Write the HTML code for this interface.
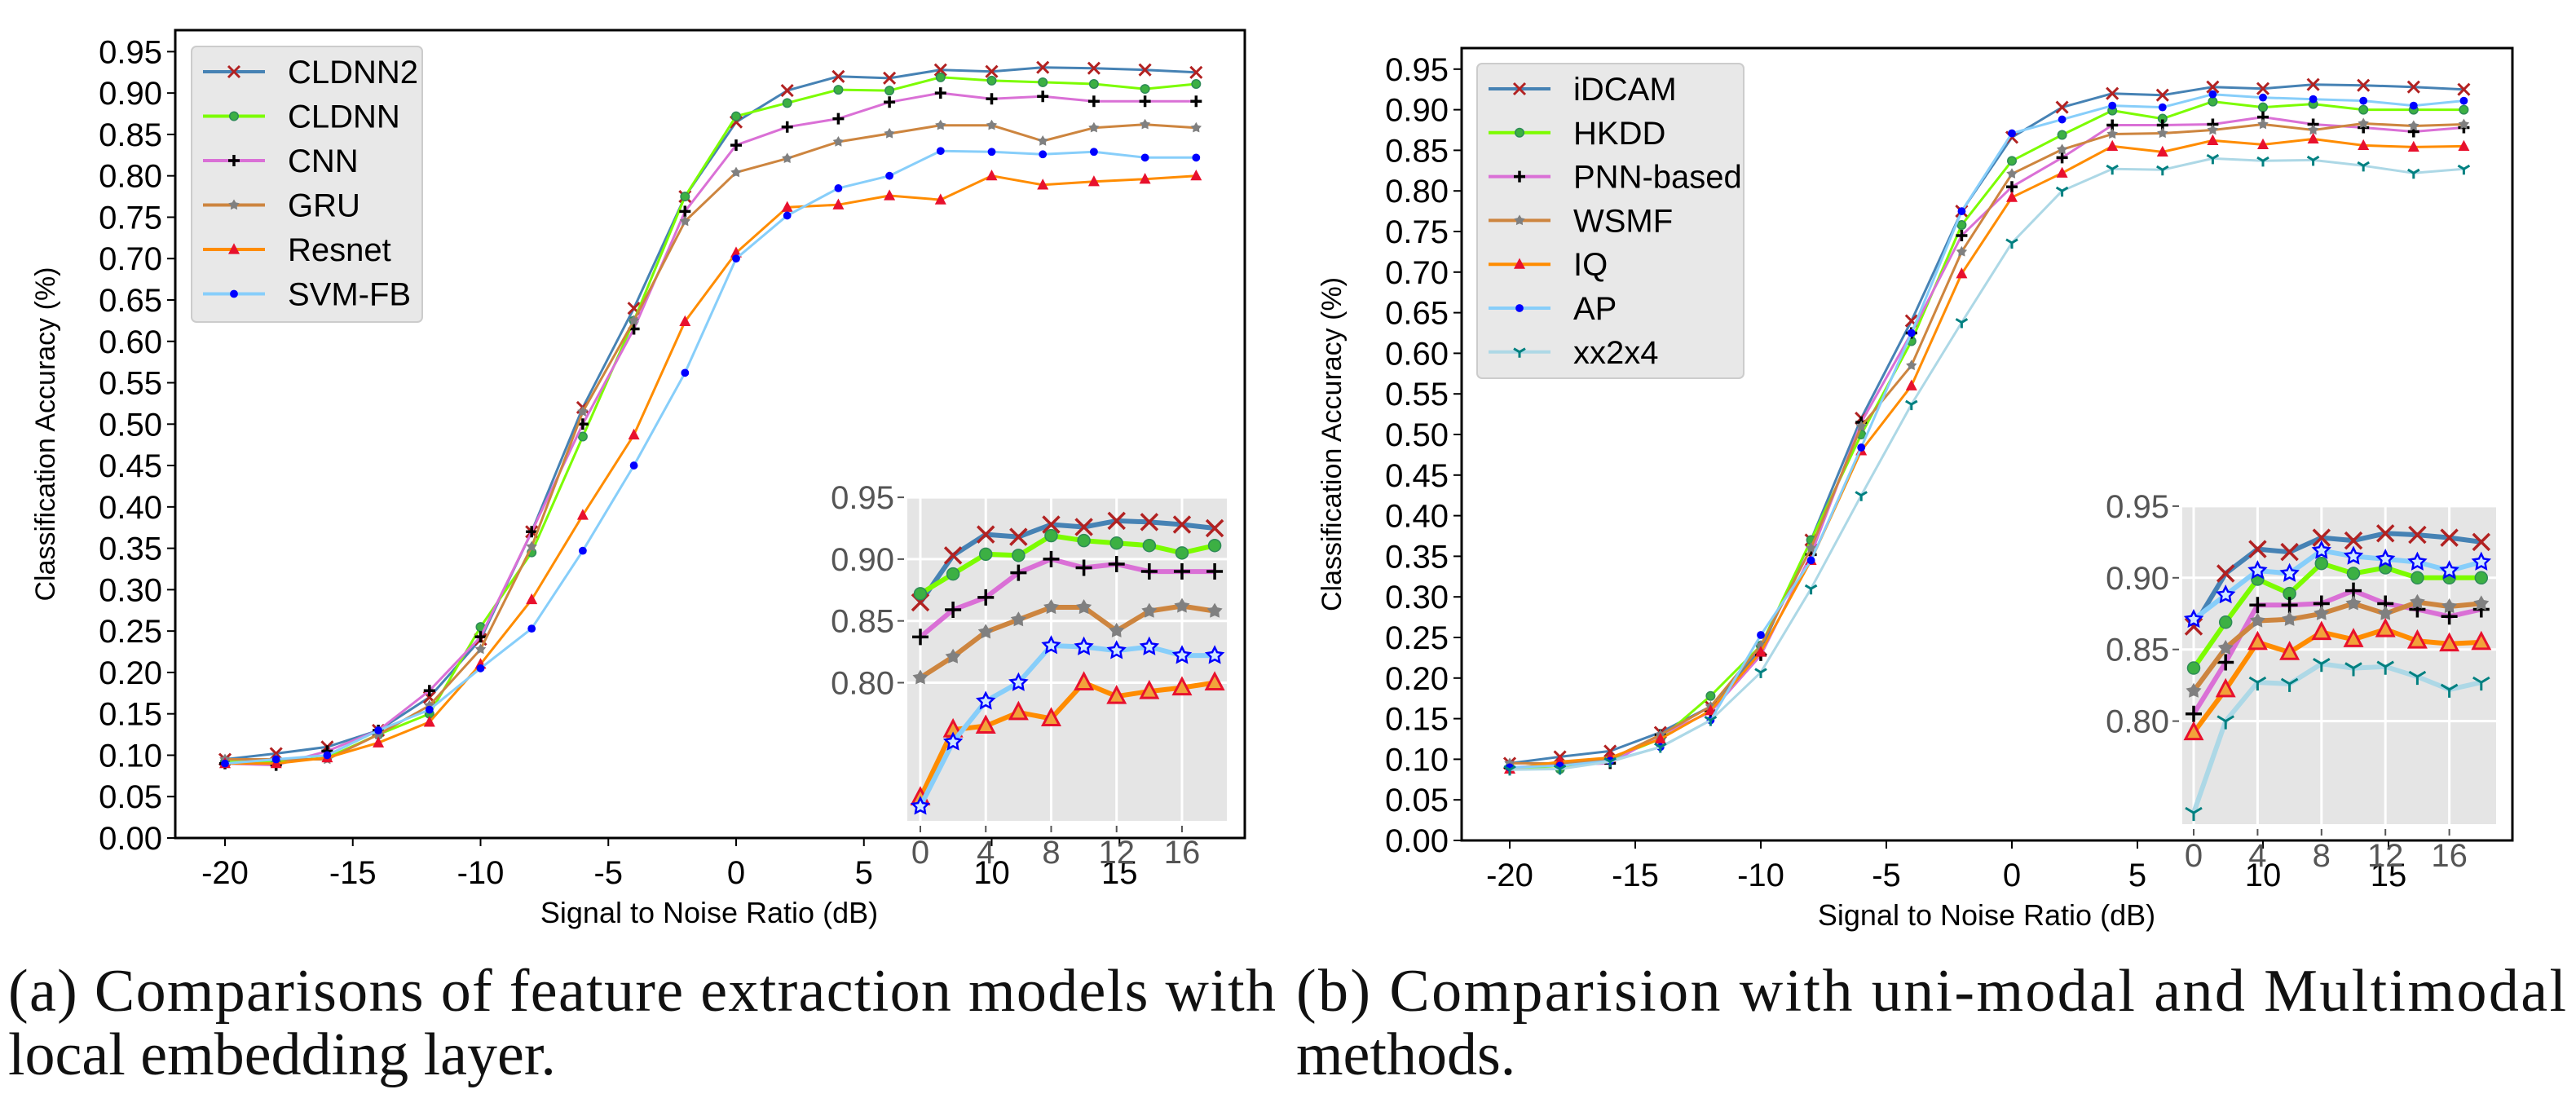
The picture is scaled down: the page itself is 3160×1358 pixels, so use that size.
<!DOCTYPE html>
<html><head><meta charset="utf-8"><style>
html,body{margin:0;padding:0;background:#fff;}
svg{display:block;}
text{font-family:"Liberation Sans","DejaVu Sans",sans-serif;}
.cap{font-family:"Liberation Serif",serif;font-size:74px;fill:#111;}
</style></head><body>
<svg id="root" width="3160" height="1358" viewBox="0 0 3160 1358" xmlns="http://www.w3.org/2000/svg">
<text class="cap" x="10" y="1240" textLength="1555" lengthAdjust="spacing">(a) Comparisons of feature extraction models with</text>
<text class="cap" x="10" y="1318">local embedding layer.</text>
<text class="cap" x="1590" y="1240" textLength="1558" lengthAdjust="spacing">(b)  Comparision with uni-modal and Multimodal</text>
<text class="cap" x="1590" y="1318">methods.</text>
</svg>
<script>
const snr = [-20,-18,-16,-14,-12,-10,-8,-6,-4,-2,0,2,4,6,8,10,12,14,16,18];
const yTicks = [0,0.05,0.1,0.15,0.2,0.25,0.3,0.35,0.4,0.45,0.5,0.55,0.6,0.65,0.7,0.75,0.8,0.85,0.9,0.95];
const xTicks = [-20,-15,-10,-5,0,5,10,15];
const insetXTicks = [0,4,8,12,16];
const insetYTicks = [0.8,0.85,0.9,0.95];
const namesA = ["CLDNN2","CLDNN","CNN","GRU","Resnet","SVM-FB"];
const cldnn2 = [0.095,0.102,0.11,0.13,0.17,0.24,0.37,0.52,0.64,0.775,0.865,0.903,0.92,0.918,0.928,0.926,0.931,0.93,0.928,0.925];
const cldnn = [0.092,0.092,0.097,0.125,0.15,0.255,0.345,0.485,0.625,0.775,0.872,0.888,0.904,0.903,0.919,0.915,0.913,0.911,0.905,0.911];
const cnn = [0.09,0.088,0.105,0.13,0.178,0.243,0.37,0.5,0.615,0.757,0.837,0.859,0.869,0.889,0.9,0.893,0.896,0.89,0.89,0.89];
const gru = [0.095,0.095,0.095,0.125,0.16,0.228,0.352,0.515,0.625,0.745,0.804,0.821,0.841,0.851,0.861,0.861,0.842,0.858,0.862,0.858];
const resnet = [0.09,0.09,0.097,0.115,0.14,0.21,0.288,0.39,0.487,0.624,0.707,0.762,0.765,0.776,0.771,0.8,0.789,0.793,0.796,0.8];
const svmfb = [0.09,0.095,0.1,0.13,0.155,0.205,0.253,0.347,0.45,0.562,0.7,0.752,0.785,0.8,0.83,0.829,0.826,0.829,0.822,0.822];
const namesB = ["iDCAM","HKDD","PNN-based","WSMF","IQ","AP","xx2x4"];
const idcam = [0.095,0.103,0.11,0.133,0.165,0.235,0.37,0.52,0.64,0.775,0.866,0.903,0.92,0.918,0.928,0.926,0.931,0.93,0.928,0.925];
const hkdd = [0.09,0.088,0.1,0.125,0.178,0.24,0.37,0.5,0.615,0.758,0.837,0.869,0.899,0.889,0.91,0.903,0.907,0.9,0.9,0.9];
const pnn = [0.09,0.093,0.095,0.13,0.158,0.228,0.352,0.515,0.625,0.745,0.805,0.841,0.881,0.881,0.882,0.891,0.882,0.878,0.873,0.878];
const wsmf = [0.095,0.095,0.1,0.13,0.165,0.24,0.36,0.51,0.585,0.725,0.821,0.851,0.87,0.871,0.875,0.882,0.875,0.883,0.88,0.882];
const iq = [0.088,0.097,0.102,0.125,0.16,0.232,0.345,0.48,0.56,0.698,0.792,0.822,0.855,0.848,0.862,0.857,0.864,0.856,0.854,0.855];
const ap = [0.09,0.092,0.098,0.115,0.148,0.253,0.345,0.484,0.625,0.775,0.871,0.888,0.905,0.903,0.919,0.915,0.913,0.911,0.905,0.911];
const xx2x4 = [0.087,0.088,0.097,0.115,0.148,0.207,0.31,0.425,0.537,0.638,0.736,0.8,0.827,0.826,0.84,0.837,0.838,0.831,0.822,0.827];

const NS="http://www.w3.org/2000/svg";
const root=document.getElementById('root');
function mk(tag,attrs,parent){const e=document.createElementNS(NS,tag);for(const k in attrs)e.setAttribute(k,attrs[k]);(parent||root).appendChild(e);return e;}

const styles={
 x:{line:"#4682b4",mc:"#b22222"}, o:{line:"#7cfc00",mc:"#2e8b57",fill:"#3cb043"},
 p:{line:"#da70d6",mc:"#000"}, s:{line:"#cd853f",mc:"#808080"},
 t:{line:"#ff8c00",mc:"#e8112d"}, d:{line:"#87cefa",mc:"#0000ff"}, y:{line:"#add8e6",mc:"#008080"}
};
function marker(g,type,cx,cy,r,inset){
  const st=styles[type];let e;
  if(type==='x'){e=mk('path',{d:`M${cx-r} ${cy-r}L${cx+r} ${cy+r}M${cx-r} ${cy+r}L${cx+r} ${cy-r}`,stroke:st.mc,'stroke-width':inset?3.5:3,fill:'none'},g);}
  else if(type==='o'){e=mk('circle',{cx,cy,r:r*0.75,fill:st.fill,stroke:st.mc,'stroke-width':1.5},g);}
  else if(type==='p'){e=mk('path',{d:`M${cx-r} ${cy}L${cx+r} ${cy}M${cx} ${cy-r}L${cx} ${cy+r}`,stroke:st.mc,'stroke-width':3.5,fill:'none'},g);}
  else if(type==='s'){let pts=[];for(let i=0;i<10;i++){const a=-Math.PI/2+i*Math.PI/5;const rr=i%2?r*0.55:r;pts.push((cx+rr*Math.cos(a)).toFixed(1)+','+(cy+rr*Math.sin(a)).toFixed(1));}e=mk('polygon',{points:pts.join(' '),fill:st.mc},g);}
  else if(type==='t'){e=mk('polygon',{points:`${cx},${cy-r*1.1} ${cx-r},${cy+r*0.8} ${cx+r},${cy+r*0.8}`,fill:inset?'#f2a23a':st.mc,stroke:st.mc,'stroke-width':inset?3:0},g);}
  else if(type==='d'){if(inset){let pts=[];for(let i=0;i<10;i++){const a=-Math.PI/2+i*Math.PI/5;const rr=i%2?r*0.5:r;pts.push((cx+rr*Math.cos(a)).toFixed(1)+','+(cy+rr*Math.sin(a)).toFixed(1));}e=mk('polygon',{points:pts.join(' '),fill:'#cfe8ff',stroke:st.mc,'stroke-width':2.5},g);}else e=mk('circle',{cx,cy,r:r*0.7,fill:st.mc},g);}
  else if(type==='y'){e=mk('path',{d:`M${cx} ${cy}L${cx} ${cy+r}M${cx} ${cy}L${cx-r} ${cy-r*0.6}M${cx} ${cy}L${cx+r} ${cy-r*0.6}`,stroke:st.mc,'stroke-width':3,fill:'none'},g);}
  
  
}
function drawSeries(g,vals,type,X,Y,name,inset,filter){
  const st=styles[type];let d='';let first=true;
  snr.forEach((s,i)=>{if(filter&&!filter(s))return;d+=(first?'M':'L')+X(s).toFixed(1)+' '+Y(vals[i]).toFixed(1);first=false;});
  const sg=mk('g',{},g);
  
  
  mk('path',{d,fill:'none',stroke:st.line,'stroke-width':inset?6:3,'stroke-linejoin':'round'},sg);
  snr.forEach((s,i)=>{if(filter&&!filter(s))return;marker(sg,type,X(s),Y(vals[i]),inset?10:7,inset);});
}

function chart(cfg){
  const g=mk('g',{});
  
  
  const X=v=>cfg.x0+(v+20)*cfg.px; const Y=v=>cfg.y0-v/0.05*cfg.py;
  mk('rect',{x:cfg.L,y:cfg.T,width:cfg.R-cfg.L,height:cfg.B-cfg.T,fill:'#fff',stroke:'#000','stroke-width':3},g);
  const yt=mk('g',{},g);
  
  
  yTicks.forEach(v=>{mk('line',{x1:cfg.L-10,x2:cfg.L,y1:Y(v),y2:Y(v),stroke:'#000','stroke-width':2},yt);
    const t=mk('text',{x:cfg.L-16,y:Y(v)+14,'text-anchor':'end','font-size':40,fill:'#000'},yt);t.textContent=v.toFixed(2);});
  const xt=mk('g',{},g);
  
  
  xTicks.forEach(v=>{mk('line',{x1:X(v),x2:X(v),y1:cfg.B,y2:cfg.B+10,stroke:'#000','stroke-width':2},xt);
    const t=mk('text',{x:X(v),y:cfg.B+56,'text-anchor':'middle','font-size':40,fill:'#000'},xt);t.textContent=v;});
  const yl=mk('text',{x:0,y:0,transform:`translate(${cfg.L-148},${(cfg.T+cfg.B)/2}) rotate(-90)`,'text-anchor':'middle','font-size':34,fill:'#000'},g);
  yl.textContent='Classification Accuracy (%)';
  
  
  const xl=mk('text',{x:cfg.xlx,y:cfg.B+104,'text-anchor':'middle','font-size':36,fill:'#000'},g);
  xl.textContent='Signal to Noise Ratio (dB)';
  
  
  cfg.series.forEach(s=>drawSeries(g,s.v,s.t,X,Y,s.n,false));
  const lg=mk('g',{},g);
  
  
  mk('rect',{x:cfg.lg.x,y:cfg.lg.y,width:cfg.lg.w,height:cfg.lg.h,rx:6,fill:'#e8e8e8',stroke:'#cccccc','stroke-width':2},lg);
  cfg.series.forEach((s,i)=>{const yy=cfg.lg.y+31+i*cfg.lg.dy;const x1=cfg.lg.x+14;
    const e=mk('g',{},lg);
    
    
    mk('line',{x1,x2:x1+76,y1:yy,y2:yy,stroke:styles[s.t].line,'stroke-width':4},e);
    marker(e,s.t,x1+38,yy,7,false);
    const t=mk('text',{x:x1+104,y:yy+14,'font-size':40,fill:'#000'},e);t.textContent=s.n;});
  const ig=mk('g',{},g);
  
  
  const I=cfg.inset;
  const IX=v=>I.x0+v*I.px; const IY=v=>I.y80-(v-0.8)/0.05*I.py;
  mk('rect',{x:I.L,y:I.T,width:I.R-I.L,height:I.B-I.T,fill:'#e5e5e5'},ig);
  insetYTicks.forEach(v=>{mk('line',{x1:I.L,x2:I.R,y1:IY(v),y2:IY(v),stroke:'#fff','stroke-width':3},ig);
    mk('line',{x1:I.L-12,x2:I.L-4,y1:IY(v),y2:IY(v),stroke:'#555','stroke-width':2},ig);
    const t=mk('text',{x:I.L-16,y:IY(v)+14,'text-anchor':'end','font-size':40,fill:'#555'},ig);t.textContent=v.toFixed(2);});
  insetXTicks.forEach(v=>{mk('line',{x1:IX(v),x2:IX(v),y1:I.T,y2:I.B,stroke:'#fff','stroke-width':3},ig);
    mk('line',{x1:IX(v),x2:IX(v),y1:I.B+6,y2:I.B+14,stroke:'#555','stroke-width':2},ig);
    const t=mk('text',{x:IX(v),y:I.B+52,'text-anchor':'middle','font-size':40,fill:'#555'},ig);t.textContent=v;});
  const cl=mk('clipPath',{id:cfg.id+'-clip'},ig);mk('rect',{x:I.L,y:I.T,width:I.R-I.L,height:I.B-I.T},cl);
  const inner=mk('g',{'clip-path':`url(#${cfg.id}-clip)`},ig);
  cfg.series.forEach(s=>drawSeries(inner,s.v,s.t,IX,IY,s.n+'-inset',true,v=>v>=0));
}

chart({id:'chart-a',L:215,R:1527,T:37,B:1028,x0:276,px:31.35,y0:1028,py:50.77,xlx:870,
 lg:{x:235,y:57,w:283,h:338,dy:54.5},
 inset:{L:1113,R:1505,T:610,B:1007,x0:1129,px:20.06,y80:837.5,py:75.8},
 series:[{n:namesA[0],v:cldnn2,t:'x'},{n:namesA[1],v:cldnn,t:'o'},{n:namesA[2],v:cnn,t:'p'},{n:namesA[3],v:gru,t:'s'},{n:namesA[4],v:resnet,t:'t'},{n:namesA[5],v:svmfb,t:'d'}]});
chart({id:'chart-b',L:1793,R:3082,T:59,B:1031,x0:1852,px:30.8,y0:1031,py:49.8,xlx:2437,
 lg:{x:1812,y:78,w:327,h:386,dy:53.8},
 inset:{L:2677,R:3062,T:621,B:1011,x0:2691,px:19.6,y80:884.6,py:87.9},
 series:[{n:namesB[0],v:idcam,t:'x'},{n:namesB[1],v:hkdd,t:'o'},{n:namesB[2],v:pnn,t:'p'},{n:namesB[3],v:wsmf,t:'s'},{n:namesB[4],v:iq,t:'t'},{n:namesB[5],v:ap,t:'d'},{n:namesB[6],v:xx2x4,t:'y'}]});
</script>
</body></html>
